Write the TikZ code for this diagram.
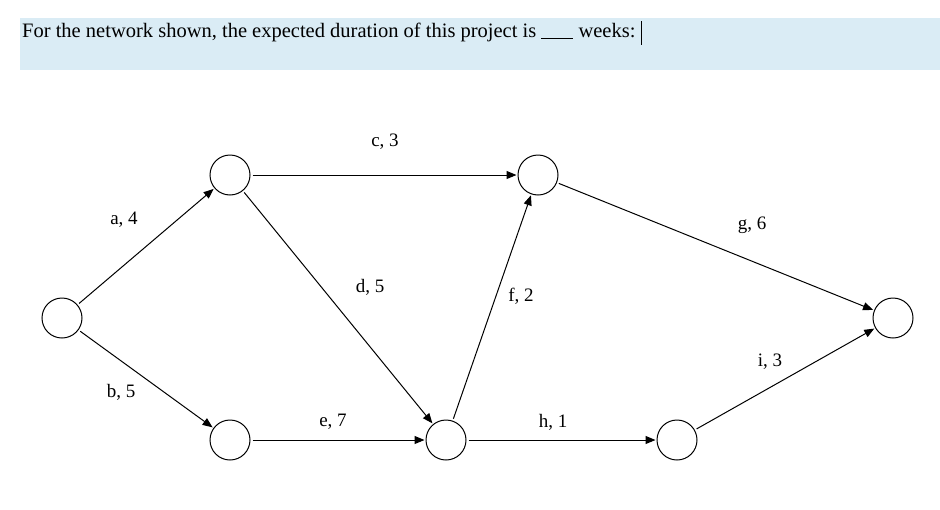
\documentclass[tikz,border=0pt]{standalone}
\usepackage{fontspec}
\setmainfont{Liberation Serif}
\usetikzlibrary{arrows.meta}
\begin{document}
\begin{tikzpicture}[x=1pt,y=-1pt,
  ev/.style={circle,draw,line width=1pt,minimum size=40pt,inner sep=0pt},
  act/.style={draw,line width=1pt,-{Triangle[length=10pt,width=8pt]},shorten <=2pt,shorten >=1pt},
  lab/.style={font=\fontsize{19}{21}\selectfont}]
\useasboundingbox (0,0) rectangle (940,509);
\fill[fill={rgb,255:red,218;green,236;blue,245}] (20,18) rectangle (940,70);
\node[anchor=west,inner sep=0pt,font=\fontsize{20.5}{22}\selectfont] (q) at (22,32) {For the network shown, the expected duration of this project is \rule[-2pt]{32pt}{0.7pt} weeks:};
\draw[line width=0.7pt] (q.east) ++(6,-11) -- ++(0,24);
\node[ev] (n1) at (62,318) {};
\node[ev] (n2) at (230,175) {};
\node[ev] (n3) at (230,440) {};
\node[ev] (n4) at (538,175) {};
\node[ev] (n5) at (446,440) {};
\node[ev] (n6) at (677,440) {};
\node[ev] (n7) at (893,318) {};
\draw[act] (n1) -- (n2);
\draw[act] (n1) -- (n3);
\draw[act] (n2) -- (n4);
\draw[act] (n2) -- (n5);
\draw[act] (n3) -- (n5);
\draw[act] (n5) -- (n4);
\draw[act] (n4) -- (n7);
\draw[act] (n5) -- (n6);
\draw[act] (n6) -- (n7);
\node[lab] (la) at (124,220) {a, 4};
\node[lab] (lb) at (121,392) {b, 5};
\node[lab] (lc) at (385,142) {c, 3};
\node[lab] (ld) at (370,287) {d, 5};
\node[lab] (le) at (333,422) {e, 7};
\node[lab] (lf) at (521,296) {f, 2};
\node[lab] (lg) at (752,225) {g, 6};
\node[lab] (lh) at (553,422) {h, 1};
\node[lab] (li) at (770,362) {i, 3};
\end{tikzpicture}
\end{document}
